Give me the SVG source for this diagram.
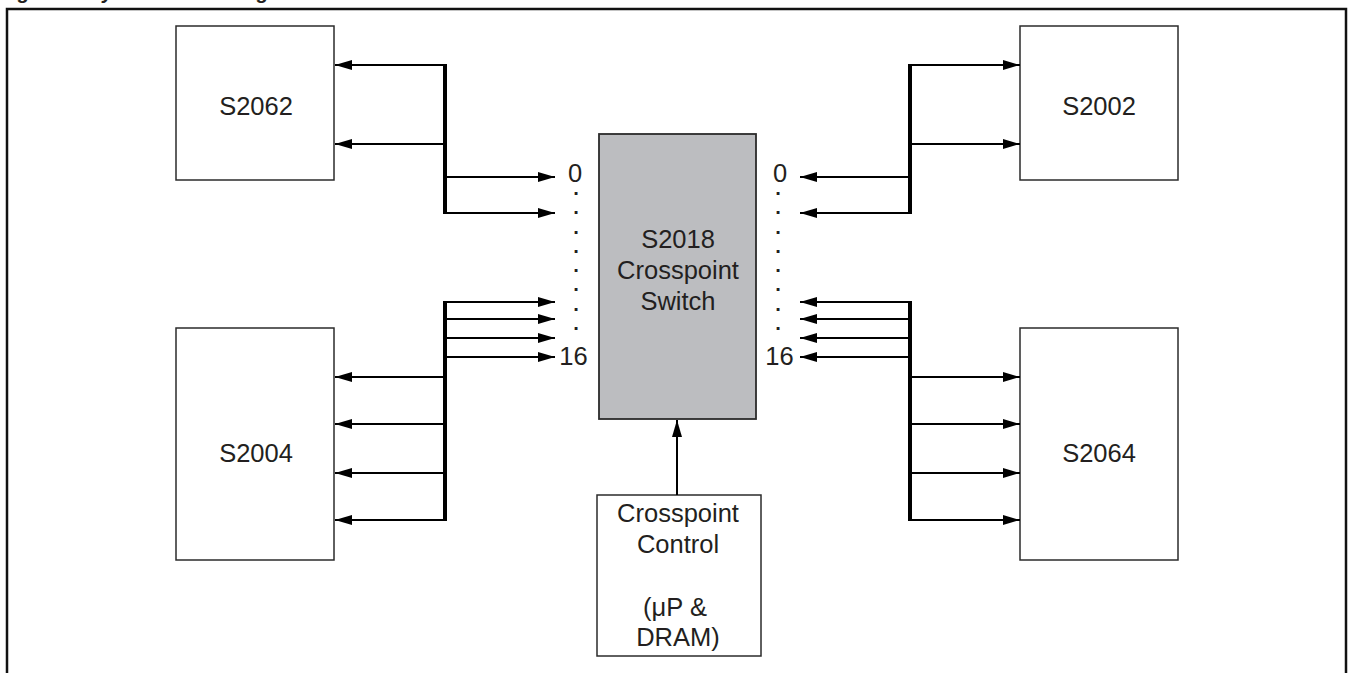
<svg xmlns="http://www.w3.org/2000/svg" width="1351" height="673" viewBox="0 0 1351 673">
<style>
text{font-family:"Liberation Sans",Arial,Helvetica,sans-serif;fill:#231f20}
.lbl{font-size:25.5px;text-anchor:middle}
.dot{font-family:"DejaVu Sans",sans-serif;font-weight:bold;font-size:16px;text-anchor:middle}
.box{fill:#ffffff;stroke:#2b2b2b;stroke-width:1.5}
.sw{fill:#bcbdc0;stroke:#2b2b2b;stroke-width:1.8}
.bus{stroke:#000;stroke-width:4;fill:none}
.arr{stroke:#000;stroke-width:2;fill:none;marker-end:url(#ah)}
.title{font-size:20px;font-weight:bold;font-style:italic}
</style>
<defs>
<marker id="ah" markerUnits="userSpaceOnUse" markerWidth="17" markerHeight="10" refX="17" refY="5" orient="auto">
<path d="M0,0 L17,5 L0,10 Z" fill="#000"/>
</marker>
</defs>
<rect width="1351" height="673" fill="#ffffff"/>
<text class="title" x="0" y="-1.5">Figure 3. System Block Diagram</text>
<rect x="7" y="9" width="1339" height="700" fill="none" stroke="#111" stroke-width="2.5"/>

<g id="s2062"><rect class="box" x="176" y="26" width="158" height="154"/><text class="lbl" x="256" y="115">S2062</text></g>
<g id="s2002"><rect class="box" x="1020" y="26" width="158" height="154"/><text class="lbl" x="1099" y="115">S2002</text></g>
<g id="s2004"><rect class="box" x="176" y="328" width="158" height="232"/><text class="lbl" x="256" y="462">S2004</text></g>
<g id="s2064"><rect class="box" x="1020" y="328" width="158" height="232"/><text class="lbl" x="1099" y="462">S2064</text></g>
<g id="s2018"><rect class="sw" x="599" y="134" width="157" height="285"/>
<text class="lbl" x="678" y="248">S2018</text><text class="lbl" x="678" y="279">Crosspoint</text><text class="lbl" x="678" y="310">Switch</text></g>
<g id="control"><rect class="box" x="597" y="495" width="164" height="161"/>
<text class="lbl" x="678" y="522">Crosspoint</text><text class="lbl" x="678" y="553">Control</text><text class="lbl" x="675" y="616">(μP &amp;</text><text class="lbl" x="678" y="646">DRAM)</text></g>

<g id="port-labels">
<text class="lbl" x="575" y="182">0</text>
<text class="lbl" x="573.5" y="365">16</text>
<text class="lbl" x="780" y="182">0</text>
<text class="lbl" x="779.5" y="365">16</text>
<text class="dot"><tspan x="576" y="195">.</tspan><tspan x="576" y="214">.</tspan><tspan x="576" y="234">.</tspan><tspan x="576" y="253">.</tspan><tspan x="576" y="272">.</tspan><tspan x="576" y="291">.</tspan><tspan x="576" y="311">.</tspan><tspan x="576" y="330">.</tspan></text>
<text class="dot"><tspan x="778" y="195">.</tspan><tspan x="778" y="214">.</tspan><tspan x="778" y="234">.</tspan><tspan x="778" y="253">.</tspan><tspan x="778" y="272">.</tspan><tspan x="778" y="291">.</tspan><tspan x="778" y="311">.</tspan><tspan x="778" y="330">.</tspan></text>
</g>

<g id="connectors">
<line class="bus" x1="445" y1="64" x2="445" y2="214"/>
<line class="arr" x1="445" y1="65" x2="335" y2="65"/>
<line class="arr" x1="445" y1="144" x2="335" y2="144"/>
<line class="arr" x1="445" y1="177" x2="555" y2="177"/>
<line class="arr" x1="445" y1="213" x2="555" y2="213"/>
<line class="bus" x1="910" y1="64" x2="910" y2="214"/>
<line class="arr" x1="910" y1="65" x2="1020" y2="65"/>
<line class="arr" x1="910" y1="144" x2="1020" y2="144"/>
<line class="arr" x1="910" y1="177" x2="800" y2="177"/>
<line class="arr" x1="910" y1="213" x2="800" y2="213"/>
<line class="bus" x1="445" y1="301" x2="445" y2="521"/>
<line class="arr" x1="445" y1="302" x2="555" y2="302"/>
<line class="arr" x1="445" y1="319" x2="555" y2="319"/>
<line class="arr" x1="445" y1="338" x2="555" y2="338"/>
<line class="arr" x1="445" y1="357" x2="555" y2="357"/>
<line class="arr" x1="445" y1="377" x2="335" y2="377"/>
<line class="arr" x1="445" y1="424" x2="335" y2="424"/>
<line class="arr" x1="445" y1="473" x2="335" y2="473"/>
<line class="arr" x1="445" y1="520" x2="335" y2="520"/>
<line class="bus" x1="910" y1="301" x2="910" y2="521"/>
<line class="arr" x1="910" y1="302" x2="800" y2="302"/>
<line class="arr" x1="910" y1="319" x2="800" y2="319"/>
<line class="arr" x1="910" y1="338" x2="800" y2="338"/>
<line class="arr" x1="910" y1="357" x2="800" y2="357"/>
<line class="arr" x1="910" y1="377" x2="1020" y2="377"/>
<line class="arr" x1="910" y1="424" x2="1020" y2="424"/>
<line class="arr" x1="910" y1="473" x2="1020" y2="473"/>
<line class="arr" x1="910" y1="520" x2="1020" y2="520"/>
<line class="arr" x1="677" y1="495" x2="677" y2="420"/>
</g>
</svg>
